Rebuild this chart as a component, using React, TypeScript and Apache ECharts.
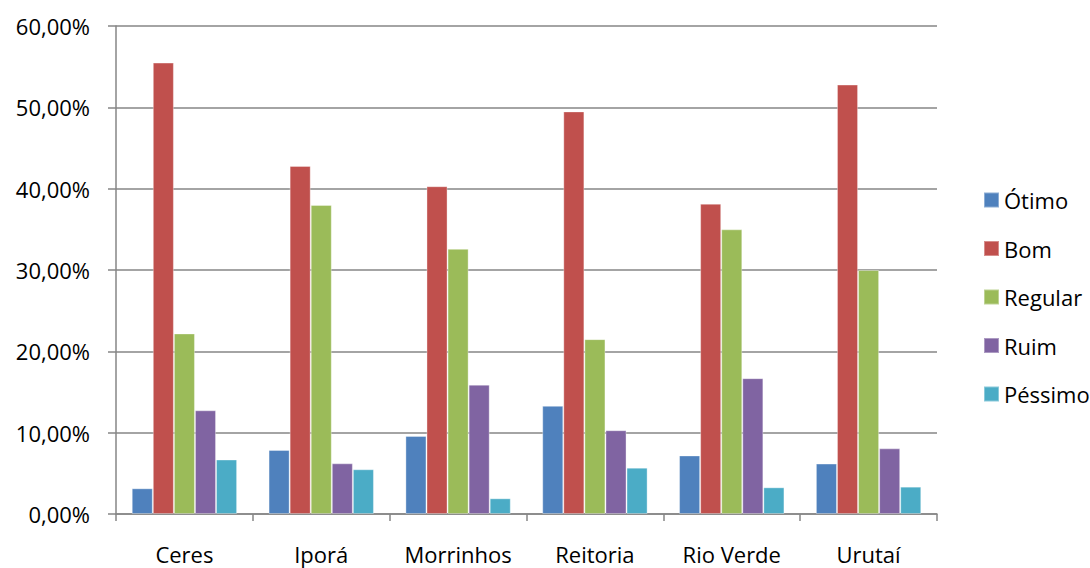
import React, { useEffect, useRef } from "react";
import * as echarts from "echarts";

const categories = ["Ceres", "Iporá", "Morrinhos", "Reitoria", "Rio Verde", "Urutaí"];
const seriesNames = ["Ótimo", "Bom", "Regular", "Ruim", "Péssimo"];
const otimo = [3.16, 7.87, 9.6, 13.3, 7.2, 6.2];
const bom = [55.5, 42.8, 40.3, 49.5, 38.15, 52.8];
const regular = [22.2, 38.0, 32.6, 21.5, 35.0, 30.0];
const ruim = [12.75, 6.23, 15.9, 10.3, 16.7, 8.07];
const pessimo = [6.7, 5.5, 1.93, 5.7, 3.28, 3.36];
const colors = ["#4F81BD", "#C0504D", "#9BBB59", "#8064A2", "#4BACC6"];
const yTicks = { min: 0, max: 60, interval: 10 };

const FONT = "'Open Sans', 'Noto Sans', sans-serif";

export default function App() {
  const ref = useRef<HTMLDivElement>(null);
  useEffect(() => {
    if (!ref.current) return;
    const chart = echarts.init(ref.current, null, { renderer: "svg" });
    const values = [otimo, bom, regular, ruim, pessimo];
    chart.setOption({
      animation: false,
      backgroundColor: "#ffffff",
      textStyle: { fontFamily: FONT },
      grid: { left: 116, right: 153, top: 26, bottom: 54, containLabel: false },
      legend: {
        orient: "vertical",
        left: 978,
        top: 184,
        itemWidth: 15,
        itemHeight: 15,
        itemGap: 26.5,
        itemTextGap: 7,
        icon: "rect",
        data: seriesNames,
        textStyle: { fontSize: 22, lineHeight: 22, color: "#000", fontFamily: FONT },
      },
      xAxis: {
        type: "category",
        data: categories,
        boundaryGap: true,
        axisLine: { lineStyle: { color: "#868686", width: 1.5 } },
        axisTick: { show: true, length: 7, interval: 0, lineStyle: { color: "#868686", width: 1.5 } },
        axisLabel: { fontSize: 22, color: "#000", margin: 29, interval: 0, fontFamily: FONT },
        splitLine: { show: false },
      },
      yAxis: {
        type: "value",
        min: yTicks.min,
        max: yTicks.max,
        interval: yTicks.interval,
        axisLine: { show: true, lineStyle: { color: "#868686", width: 1.5 } },
        axisTick: { show: true, length: 8, lineStyle: { color: "#868686", width: 1.5 } },
        axisLabel: {
          fontSize: 22,
          color: "#000",
          margin: 26,
          fontFamily: FONT,
          formatter: (v: number) => v.toFixed(2).replace(".", ",") + "%",
        },
        splitLine: { show: true, lineStyle: { color: "#868686", width: 1.5 } },
      },
      series: seriesNames.map((name, i) => ({
        name,
        type: "bar",
        data: values[i],
        barGap: "0%",
        barCategoryGap: "23%",
        itemStyle: { color: colors[i], borderColor: "rgba(255,255,255,0.35)", borderWidth: 1 },
      })),
    });
    return () => chart.dispose();
  }, []);
  return <div ref={ref} style={{ width: 1090, height: 568, position: "absolute", left: 0, top: 0 }} />;
}
